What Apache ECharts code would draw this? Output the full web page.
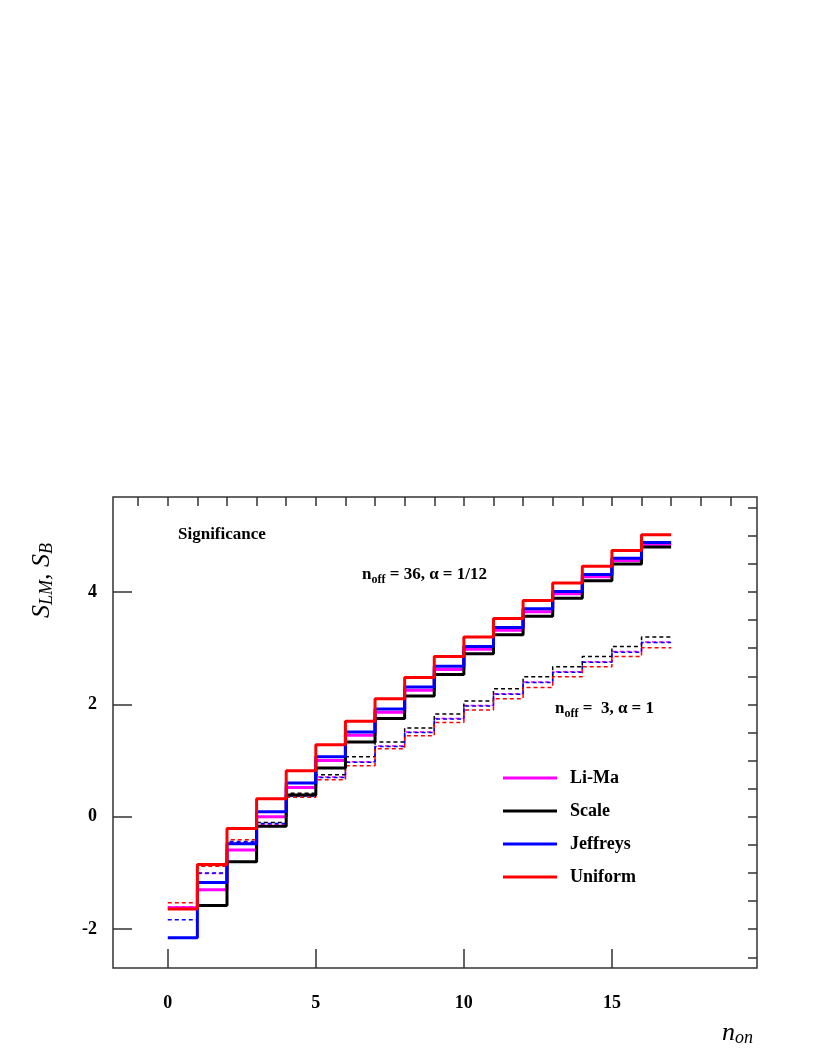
<!DOCTYPE html>
<html><head><meta charset="utf-8">
<script src="https://cdn.jsdelivr.net/npm/echarts@6/dist/echarts.min.js"></script>
<style>body{margin:0;background:#fff}#c{width:822px;height:1064px}</style></head>
<body><div id="c"></div>
<script>
const bins = [0,1,2,3,4,5,6,7,8,9,10,11,12,13,14,15,16];
// n_off = 36, alpha = 1/12 (solid)
const liMa36 = [-1.62,-1.30,-0.59,0.00,0.52,1.00,1.45,1.86,2.25,2.62,2.98,3.32,3.65,3.97,4.27,4.56,4.85];
const scale36 = [null,-1.58,-0.80,-0.17,0.39,0.87,1.33,1.75,2.15,2.53,2.90,3.24,3.57,3.89,4.20,4.50,4.80];
const jeffreys36 = [-2.15,-1.17,-0.48,0.09,0.60,1.07,1.51,1.92,2.31,2.68,3.03,3.37,3.70,4.01,4.31,4.60,4.88];
const uniform36 = [-1.64,-0.85,-0.21,0.32,0.82,1.28,1.70,2.10,2.48,2.85,3.20,3.53,3.85,4.16,4.46,4.74,5.02];
// n_off = 3, alpha = 1 (dashed)
const liMa3 = [-1.60,-1.01,-0.46,-0.14,0.38,0.71,0.98,1.26,1.51,1.75,1.98,2.19,2.40,2.58,2.76,2.94,3.11];
const scale3 = [null,-1.16,-0.47,-0.10,0.42,0.75,1.07,1.33,1.58,1.83,2.06,2.28,2.49,2.67,2.85,3.03,3.20];
const jeffreys3 = [-1.83,-1.00,-0.44,-0.12,0.37,0.70,0.97,1.25,1.50,1.74,1.97,2.18,2.39,2.57,2.75,2.93,3.10];
const uniform3 = [-1.53,-0.88,-0.41,0.00,0.35,0.66,0.91,1.21,1.44,1.68,1.90,2.10,2.30,2.49,2.67,2.85,3.01];
const xMajor = [0,5,10,15];
const yMajor = [-2,0,2,4];

function stepData(vals){
  const d=[];
  bins.forEach((b,i)=>{ if(vals[i]!==null) d.push([b,vals[i]]); });
  d.push([bins[bins.length-1]+1, vals[vals.length-1]]);
  return d;
}
const F='Liberation Serif';
function ser(name,vals,color,dashed,w){
  return {name,type:'line',step:'end',data:stepData(vals),symbol:'none',animation:false,
    lineStyle:{color,width:w,type:dashed?[4,3]:'solid'},itemStyle:{color},z:dashed?2:3};
}
const xMinor=[],yMinor=[];
for(let i=-1;i<=19;i++) xMinor.push(i);
for(let v=-2.5;v<=5.5;v+=0.5) yMinor.push(v);
const grid={left:113,top:497,width:644,height:471,show:true,borderColor:'#333',borderWidth:1.5};
const xa=(vals,len,show)=>({type:'value',min:-1.85,max:19.9,gridIndex:0,
  axisLine:{show:false,onZero:false},splitLine:{show:false},
  axisTick:{show:true,inside:true,length:len,customValues:vals,lineStyle:{color:'#333',width:1.5}},
  axisLabel:{show:show,customValues:vals,color:'#000',fontFamily:F,fontWeight:'bold',fontSize:18,margin:26}});
const ya=(vals,len,show)=>({type:'value',min:-2.69,max:5.69,gridIndex:0,
  axisLine:{show:false,onZero:false},splitLine:{show:false},
  axisTick:{show:true,inside:true,length:len,customValues:vals,lineStyle:{color:'#333',width:1.5}},
  axisLabel:{show:show,customValues:vals,color:'#000',fontFamily:F,fontWeight:'bold',fontSize:18,margin:16}});
const chart=echarts.init(document.getElementById('c'));
chart.setOption({
  backgroundColor:'#fff',animation:false,
  grid:[grid],
  xAxis:[xa(xMajor,19,true),xa(xMinor,9,false)],
  yAxis:[ya(yMajor,19,true),ya(yMinor,9,false)],
  legend:{orient:'vertical',left:498,top:764,itemWidth:54,itemHeight:3,itemGap:15,
    icon:'rect',data:['Li-Ma','Scale','Jeffreys','Uniform'],
    textStyle:{fontFamily:F,fontWeight:'bold',fontSize:18,color:'#000',padding:[0,0,0,8]}},
  series:[
    ser('Li-Ma d',liMa3,'#ff00ff',true,1.5),
    ser('Scale d',scale3,'#000000',true,1.5),
    ser('Jeffreys d',jeffreys3,'#0000ff',true,1.5),
    ser('Uniform d',uniform3,'#ff0000',true,1.5),
    ser('Li-Ma',liMa36,'#ff00ff',false,3),
    ser('Scale',scale36,'#000000',false,3),
    ser('Jeffreys',jeffreys36,'#0000ff',false,3),
    ser('Uniform',uniform36,'#ff0000',false,3)
  ],
  graphic:[
    {type:'text',left:178,top:526,style:{text:'Significance',font:'bold 17px "Liberation Serif"',fill:'#000'}},
    {type:'text',left:362,top:566,style:{rich:{
      a:{font:'bold 17px "Liberation Serif"',fill:'#000'},
      s:{font:'bold 12px "Liberation Serif"',fill:'#000',verticalAlign:'bottom',padding:[10,0,0,0]}},
      text:'{a|n}{s|off}{a| = 36, α = 1/12}'}},
    {type:'text',left:555,top:700,style:{rich:{
      a:{font:'bold 17px "Liberation Serif"',fill:'#000'},
      s:{font:'bold 12px "Liberation Serif"',fill:'#000',verticalAlign:'bottom',padding:[10,0,0,0]}},
      text:'{a|n}{s|off}{a| =  3, α = 1}'}},
    {type:'text',x:28,y:618,rotation:Math.PI/2,style:{rich:{
      a:{font:'italic 26px "Liberation Serif"',fill:'#000'},
      s:{font:'italic 18px "Liberation Serif"',fill:'#000',padding:[10,0,0,0]}},
      text:'{a|S}{s|LM}{a|, S}{s|B}'}},
    {type:'text',left:722,top:1020,style:{rich:{
      a:{font:'italic 26px "Liberation Serif"',fill:'#000'},
      s:{font:'italic 18px "Liberation Serif"',fill:'#000',padding:[10,0,0,0]}},
      text:'{a|n}{s|on}'}}
  ]
});
</script></body></html>
